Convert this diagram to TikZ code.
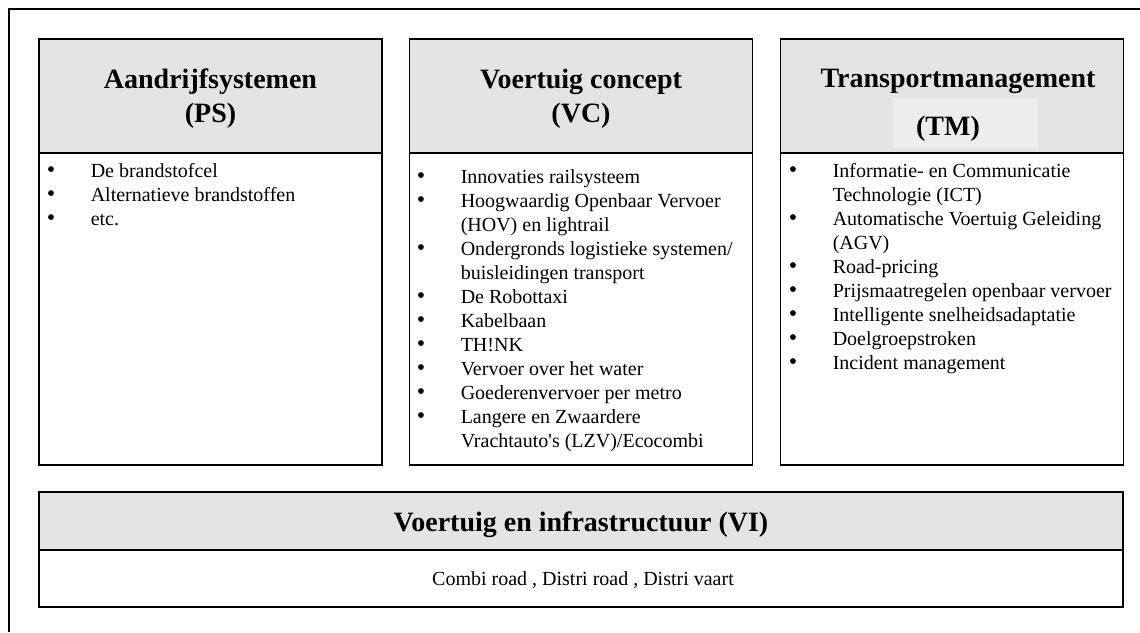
\documentclass[tikz,border=0pt]{standalone}
\usepackage{fontspec}
\setmainfont{Liberation Serif}
\usepackage{tikz}
\usetikzlibrary{positioning}

\definecolor{hdrgray}{RGB}{228,228,228}
\definecolor{tmgray}{RGB}{237,237,237}
\newcommand{\blt}{\makebox[51pt][l]{\hspace{7pt}{\fontsize{24}{24}\selectfont\textbullet}}}
\newcommand{\hdrfont}{\fontsize{28}{34}\selectfont\bfseries}
\newcommand{\lstfont}{\fontsize{20}{24}\selectfont}

\begin{document}
\begin{tikzpicture}[x=1pt, y=-1pt, line width=1.5pt,
	hdr/.style={rectangle, draw, fill=hdrgray, outer sep=0pt, inner sep=0pt, minimum width=343pt, minimum height=114pt},
	bdy/.style={rectangle, draw, outer sep=0pt, inner sep=0pt, minimum width=343pt, minimum height=312pt},
	ttl/.style={inner sep=0pt, align=center, font=\hdrfont},
	lst/.style={inner sep=0pt, anchor=base west, font=\lstfont},
]
\useasboundingbox (0,0) rectangle (1140,632);
\draw [line width=1.2pt] (1140,9) -| (9,632);
%
\node [hdr] (PS) at (210.5,96) {};
\node [bdy] (PSb) [below=0pt of PS] {};
\node [hdr] (VC) at (581,96) {};
\node [bdy] (VCb) [below=0pt of VC] {};
\node [hdr] (TM) at (952,96) {};
\node [bdy] (TMb) [below=0pt of TM] {};
\node [hdr, minimum width=1084pt, minimum height=58pt] (VI) at (581,521) {};
\node [bdy, minimum width=1084pt, minimum height=57pt] (VIb) [below=0pt of VI] {};
%
\node [ttl] (PSt) at (210.5,99) {Aandrijfsystemen\\(PS)};
\node [ttl] (VCt) at (581,99) {Voertuig concept\\(VC)};
\node [ttl, anchor=base] (TMt) at (958,87) {Transportmanagement};
\node [fill=tmgray, minimum width=145pt, minimum height=50pt] (TMp) at (965.5,123) {};
\node [ttl, anchor=base] (TMs) at (948,135) {(TM)};
\node [ttl, anchor=base] (VIt) at (581,531) {Voertuig en infrastructuur (VI)};
%
\node [lst] (PSl) at (39,177) {\begin{tabular}[t]{@{}l@{}l@{}}
\blt & De brandstofcel\\
\blt & Alternatieve brandstoffen\\
\blt & etc.
\end{tabular}};
\node [lst] (VCl) at (409,183) {\begin{tabular}[t]{@{}l@{}l@{}}
\blt & Innovaties railsysteem\\
\blt & Hoogwaardig Openbaar Vervoer\\
     & (HOV) en lightrail\\
\blt & Ondergronds logistieke systemen/\\
     & buisleidingen transport\\
\blt & De Robottaxi\\
\blt & Kabelbaan\\
\blt & TH!NK\\
\blt & Vervoer over het water\\
\blt & Goederenvervoer per metro\\
\blt & Langere en Zwaardere\\
     & Vrachtauto\textquotesingle s (LZV)/Ecocombi
\end{tabular}};
\node [lst] (TMl) at (781,177) {\begin{tabular}[t]{@{}l@{}l@{}}
\blt & Informatie- en Communicatie\\
     & Technologie (ICT)\\
\blt & Automatische Voertuig Geleiding\\
     & (AGV)\\
\blt & Road-pricing\\
\blt & Prijsmaatregelen openbaar vervoer\\
\blt & Intelligente snelheidsadaptatie\\
\blt & Doelgroepstroken\\
\blt & Incident management
\end{tabular}};
\node [lst, anchor=base] (VIl) at (583,585) {Combi road , Distri road , Distri vaart};
\end{tikzpicture}
\end{document}
